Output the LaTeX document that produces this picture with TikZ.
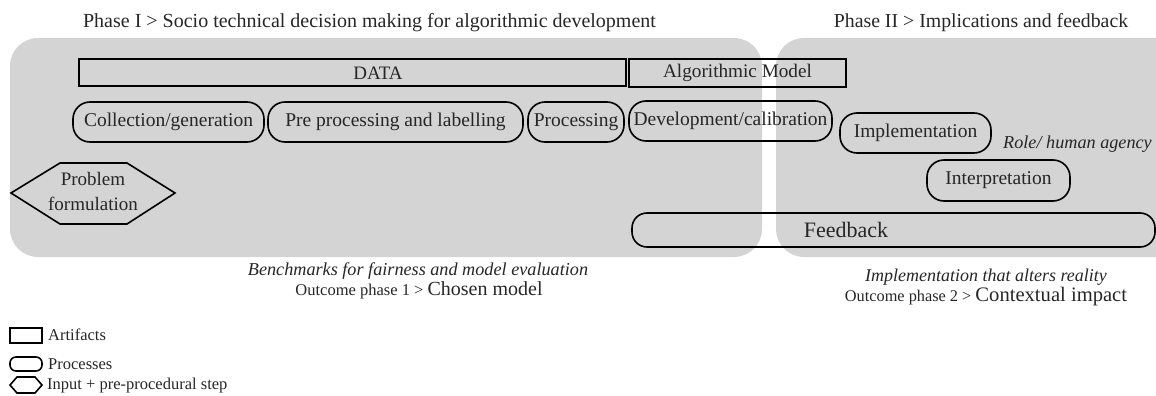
\documentclass[tikz,border=0pt]{standalone}
\usepackage{fontspec}
\setmainfont{Liberation Serif}
\definecolor{panelgray}{HTML}{D4D4D4}
\definecolor{ink}{HTML}{262626}
\tikzset{
  panel/.style={fill=panelgray, rounded corners=28pt},
  artifact/.style={draw=black, line width=1.8pt, inner sep=0pt},
  process/.style={draw=black, line width=1.6pt, rounded corners=17pt, inner sep=0pt,
    text=ink, font=\fontsize{19.5}{22}\selectfont},
  hexa/.style={draw=black, line width=1.6pt, line join=miter},
  plain/.style={text=ink, inner sep=0pt},
  legendtext/.style={plain, anchor=west, font=\fontsize{16.5}{19}\selectfont},
}
\begin{document}
\begin{tikzpicture}[x=1pt, y=-1pt]
\useasboundingbox (0,0) rectangle (1156,396);
\clip (0,0) rectangle (1156,396);

% phase panels
\fill[panel] (10,38) rectangle (762,257);
\fill[panel] (776,38) rectangle (1190,257);

% phase headings
\node[plain, font=\fontsize{20}{22}\selectfont] (phaseone) at (369.5,23)
  {Phase I > Socio technical decision making for algorithmic development};
\node[plain, font=\fontsize{19.8}{22}\selectfont] (phasetwo) at (981,23)
  {Phase II > Implications and feedback};

% artifacts
\node[artifact, minimum width=547pt, minimum height=27pt] (data) at (352.5,72.5) {};
\node[plain, font=\fontsize{19}{21}\selectfont] (datatext) at (378,73) {DATA};
\node[artifact, minimum width=217pt, minimum height=28pt, text=ink,
  font=\fontsize{19.2}{21}\selectfont] (model) at (737.5,73) {Algorithmic Model};

% processes of phase I
\node[process, minimum width=191pt, minimum height=40pt] (collect) at (168.5,122) {Collection/generation};
\node[process, minimum width=255pt, minimum height=40pt] (prep) at (395.5,122) {Pre processing and labelling};
\node[process, minimum width=96pt, minimum height=40pt] (proc) at (576,122) {Processing};
\node[process, minimum width=203pt, minimum height=40pt] (devcal) at (730.5,121) {Development/calibration};

% processes of phase II
\node[process, minimum width=151pt, minimum height=40pt] (impl) at (915.5,133) {Implementation};
\node[process, minimum width=143pt, minimum height=41pt] (interp) at (998.5,180.5) {Interpretation};
\node[plain, anchor=west, font=\itshape\fontsize{18.2}{20}\selectfont] (agency) at (1003,144) {Role/ human agency};

\node[process, rounded corners=15pt, minimum width=523pt, minimum height=34pt] (feedback) at (893.5,230) {};
\node[plain, font=\fontsize{22}{24}\selectfont] (fbtext) at (846,230) {Feedback};

% problem formulation (input step)
\draw[hexa] (11,193) -- (60,163) -- (127,163) -- (175,193) -- (127,224) -- (60,224) -- cycle;
\node[plain, align=center, font=\fontsize{19}{25}\selectfont] (problem) at (93,191) {Problem\\formulation};

% outcomes
\node[plain, font=\itshape\fontsize{18.2}{20}\selectfont] (bench) at (418,271)
  {Benchmarks for fairness and model evaluation};
\node[plain] (outone) at (419,290)
  {\fontsize{16.5}{19}\selectfont Outcome phase 1 > \fontsize{20}{22}\selectfont Chosen model};
\node[plain, font=\itshape\fontsize{18}{20}\selectfont] (alter) at (986,277)
  {Implementation that alters reality};
\node[plain] (outtwo) at (986,297)
  {\fontsize{16.3}{19}\selectfont Outcome phase 2 > \fontsize{20.6}{23}\selectfont Contextual impact};

% legend
\draw[line width=1.8pt] (10,328) rectangle (42,343);
\node[legendtext] (legart) at (48,335) {Artifacts};
\draw[line width=1.6pt, rounded corners=6pt] (10,357) rectangle (42,371);
\node[legendtext] (legproc) at (48,364) {Processes};
\draw[hexa] (10,385) -- (17,377) -- (35,377) -- (42,385) -- (35,393) -- (17,393) -- cycle;
\node[legendtext] (leginput) at (47,386) {Input + pre-procedural step};
\end{tikzpicture}
\end{document}
